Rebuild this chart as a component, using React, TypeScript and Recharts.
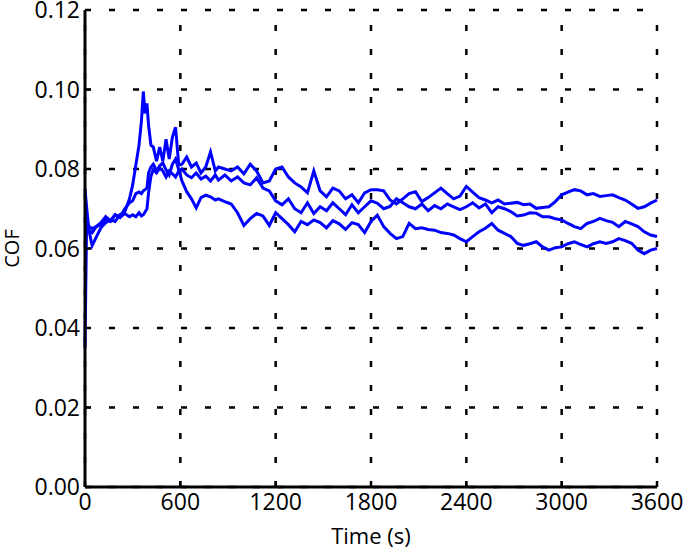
import React from 'react';
import { CartesianGrid, Line, LineChart, XAxis, YAxis } from 'recharts';

// time stamps (s) shared by the three runs
const TIMES = [
  0, 10, 25, 45, 70, 100, 130, 160, 190, 220, 250, 280, 300, 320, 340, 355, 367, 378, 390, 400,
  415, 430, 450, 470, 490, 510, 530, 550, 570, 590, 610, 640, 670, 700, 730, 760, 790, 820,
  840, 880, 920, 960, 1000, 1040, 1080, 1120, 1160, 1200, 1240, 1280, 1320, 1360, 1400, 1440,
  1480, 1520, 1560, 1600, 1640, 1680, 1720, 1760, 1800, 1840, 1880, 1920, 1960, 2000, 2040,
  2080, 2120, 2160, 2200, 2240, 2280, 2320, 2360, 2400, 2440, 2480, 2520, 2560, 2600, 2640,
  2680, 2720, 2760, 2800, 2840, 2880, 2920, 2960, 3000, 3040, 3080, 3120, 3160, 3200, 3240,
  3280, 3320, 3360, 3400, 3440, 3480, 3520, 3560, 3600,
];

// run 1: spike near 370 s, ends highest
const COF_RUN1 = [
  0.075, 0.0705, 0.0645, 0.0607, 0.0628, 0.0652, 0.0665, 0.0672, 0.0668, 0.0685, 0.0692, 0.0725,
  0.076, 0.081, 0.086, 0.092, 0.0995, 0.094, 0.0965, 0.091, 0.086, 0.0855, 0.082, 0.0855, 0.082,
  0.0875, 0.0825, 0.088, 0.0905, 0.081, 0.0812, 0.083, 0.0805, 0.0815, 0.079, 0.0805, 0.0843, 0.0795,
  0.0805, 0.08, 0.0795, 0.0805, 0.0788, 0.0812, 0.0795, 0.0765, 0.077, 0.08, 0.0805, 0.078, 0.0765,
  0.0755, 0.074, 0.0795, 0.0745, 0.073, 0.0752, 0.0745, 0.0725, 0.0735, 0.0715, 0.074, 0.0748,
  0.0748, 0.0745, 0.0722, 0.0712, 0.0725, 0.0738, 0.0743, 0.0718, 0.0728, 0.074,
  0.0752, 0.0738, 0.0725, 0.0732, 0.0756, 0.0742, 0.0728, 0.0722, 0.0715, 0.0722,
  0.0712, 0.0714, 0.0716, 0.071, 0.0712, 0.0701, 0.0703, 0.0705, 0.0718, 0.0735,
  0.0742, 0.0748, 0.0745, 0.0735, 0.0738, 0.0731, 0.0733, 0.0735, 0.0728, 0.0722,
  0.0712, 0.0701, 0.0705, 0.0714, 0.0722,
];

// run 2: starts low, drops first, ends lowest
const COF_RUN2 = [
  0.035, 0.066, 0.0645, 0.064, 0.0655, 0.066, 0.0675, 0.0668, 0.0685, 0.0678, 0.07, 0.0715, 0.072,
  0.0738, 0.0742, 0.0738, 0.0745, 0.0748, 0.0752, 0.079, 0.0805, 0.0812, 0.0795, 0.0808, 0.0815,
  0.0798, 0.0785, 0.0812, 0.0825, 0.0798, 0.077, 0.0743, 0.0725, 0.0702, 0.0728, 0.0734, 0.073, 0.0722,
  0.0725, 0.0718, 0.0712, 0.069, 0.0658, 0.0675, 0.0688, 0.0682, 0.0658, 0.069, 0.0675, 0.066,
  0.0642, 0.0668, 0.066, 0.0672, 0.0665, 0.0652, 0.067, 0.0662, 0.0648, 0.0665, 0.066, 0.064, 0.0668,
  0.0684, 0.0655, 0.0638, 0.0625, 0.063, 0.0663, 0.065, 0.0652, 0.0648, 0.0646,
  0.064, 0.0638, 0.0634, 0.0625, 0.0617, 0.063, 0.0642, 0.0651, 0.0663, 0.0646,
  0.0638, 0.063, 0.0613, 0.0608, 0.0612, 0.0617, 0.0604, 0.0596, 0.0602, 0.0604,
  0.0612, 0.0617, 0.061, 0.0604, 0.0612, 0.0617, 0.0613, 0.0617, 0.0625, 0.062,
  0.0613, 0.0596, 0.0587, 0.0596, 0.06,
];

// run 3: flat start, ends in the middle
const COF_RUN3 = [
  0.068, 0.067, 0.0655, 0.065, 0.0655, 0.0665, 0.068, 0.067, 0.0685, 0.0678, 0.0688, 0.068, 0.0685,
  0.068, 0.069, 0.0682, 0.0685, 0.0692, 0.07, 0.074, 0.0782, 0.0798, 0.079, 0.0802, 0.0795, 0.078,
  0.0795, 0.0788, 0.078, 0.0795, 0.08, 0.0785, 0.0778, 0.079, 0.0775, 0.0782, 0.077, 0.0785,
  0.0772, 0.0785, 0.077, 0.078, 0.0765, 0.076, 0.0778, 0.0752, 0.0745, 0.072, 0.071, 0.0725, 0.07,
  0.069, 0.0715, 0.0688, 0.0705, 0.0695, 0.0715, 0.07, 0.0685, 0.071, 0.069, 0.0705, 0.072,
  0.0714, 0.07, 0.0706, 0.0725, 0.0715, 0.0705, 0.07, 0.0712, 0.0695, 0.0708,
  0.07, 0.0712, 0.0705, 0.0698, 0.0705, 0.0715, 0.0702, 0.0712, 0.069, 0.0705,
  0.07, 0.0693, 0.0682, 0.0684, 0.069, 0.0689, 0.068, 0.068, 0.0675, 0.0672,
  0.0663, 0.0655, 0.065, 0.0663, 0.0668, 0.0676, 0.067, 0.0666, 0.0655, 0.0668,
  0.0662, 0.0655, 0.0642, 0.0634, 0.063,
];

const X_TICKS = [0, 600, 1200, 1800, 2400, 3000, 3600];
const Y_TICKS = [0, 0.02, 0.04, 0.06, 0.08, 0.1, 0.12];

const data = TIMES.map((t, i) => ({ t, run1: COF_RUN1[i], run2: COF_RUN2[i], run3: COF_RUN3[i] }));

const FONT = '"Open Sans", sans-serif';
const TICK_FONT = 23;
const TICK_LEN = 6;
const BLUE = '#0000ff';

const BottomTick = ({ x, y, payload }: any) => (
  <g>
    <line x1={x} x2={x} y1={y} y2={y - TICK_LEN} stroke="#000" strokeWidth={2} />
    <text x={x} y={y + 23} textAnchor="middle" fontSize={TICK_FONT} fontFamily={FONT} fill="#000">
      {payload.value}
    </text>
  </g>
);

const TopTick = ({ x, y }: any) => <line x1={x} x2={x} y1={y} y2={y + TICK_LEN} stroke="#000" strokeWidth={2} />;

const LeftTick = ({ x, y, payload }: any) => (
  <g>
    <line x1={x} x2={x + TICK_LEN} y1={y} y2={y} stroke="#000" strokeWidth={2} />
    <text x={x - 5} y={y} dy="0.36em" textAnchor="end" fontSize={TICK_FONT} fontFamily={FONT} fill="#000">
      {Number(payload.value).toFixed(2)}
    </text>
  </g>
);

const RightTick = ({ x, y }: any) => <line x1={x} x2={x - TICK_LEN} y1={y} y2={y} stroke="#000" strokeWidth={2} />;

// dashes start from the bottom of the plot, like the source figure
const VerticalGridLine = (props: any) => (
  <line
    key={props.key}
    x1={props.x1}
    x2={props.x2}
    y1={props.y2}
    y2={props.y1}
    stroke="#000"
    strokeWidth={2.5}
    strokeDasharray="6 18"
  />
);

const axisLine = { stroke: '#000', strokeWidth: 3 };

export default function App() {
  return (
    <div style={{ position: 'absolute', left: 0, top: 0, background: '#fff' }}>
      <LineChart width={685} height={549} data={data} margin={{ top: 10, right: 28, bottom: 0, left: 0 }}>
        <CartesianGrid
          stroke="#000"
          strokeWidth={2.5}
          strokeDasharray="6 18"
          vertical={VerticalGridLine}
          horizontalValues={Y_TICKS}
          verticalValues={X_TICKS}
        />
        <XAxis
          dataKey="t"
          type="number"
          domain={[0, 3600]}
          ticks={X_TICKS}
          interval={0}
          height={62}
          tickSize={0}
          tickMargin={0}
          tick={<BottomTick />}
          tickLine={false}
          axisLine={axisLine}
          label={{ value: 'Time (s)', position: 'insideBottom', offset: 5, fontSize: 22, fontFamily: FONT, fill: '#000' }}
        />
        <XAxis
          xAxisId="top"
          orientation="top"
          dataKey="t"
          type="number"
          domain={[0, 3600]}
          ticks={X_TICKS}
          interval={0}
          height={0}
          tickSize={0}
          tickMargin={0}
          tick={<TopTick />}
          tickLine={false}
          axisLine={axisLine}
        />
        <YAxis
          type="number"
          domain={[0, 0.12]}
          ticks={Y_TICKS}
          interval={0}
          width={85}
          tickSize={0}
          tickMargin={0}
          tick={<LeftTick />}
          tickLine={false}
          axisLine={axisLine}
          label={{
            value: 'COF',
            angle: -90,
            position: 'insideLeft',
            offset: 12,
            fontSize: 20,
            fontFamily: FONT,
            fill: '#000',
            style: { textAnchor: 'middle' },
          }}
        />
        <YAxis
          yAxisId="right"
          orientation="right"
          type="number"
          domain={[0, 0.12]}
          ticks={Y_TICKS}
          interval={0}
          width={0}
          tickSize={0}
          tickMargin={0}
          tick={<RightTick />}
          tickLine={false}
          axisLine={axisLine}
        />
        <Line type="linear" dataKey="run1" stroke={BLUE} strokeWidth={3} dot={false} isAnimationActive={false} />
        <Line type="linear" dataKey="run2" stroke={BLUE} strokeWidth={3} dot={false} isAnimationActive={false} />
        <Line
          type="linear"
          dataKey="run3"
          xAxisId="top"
          yAxisId="right"
          stroke={BLUE}
          strokeWidth={3}
          dot={false}
          isAnimationActive={false}
        />
      </LineChart>
    </div>
  );
}
